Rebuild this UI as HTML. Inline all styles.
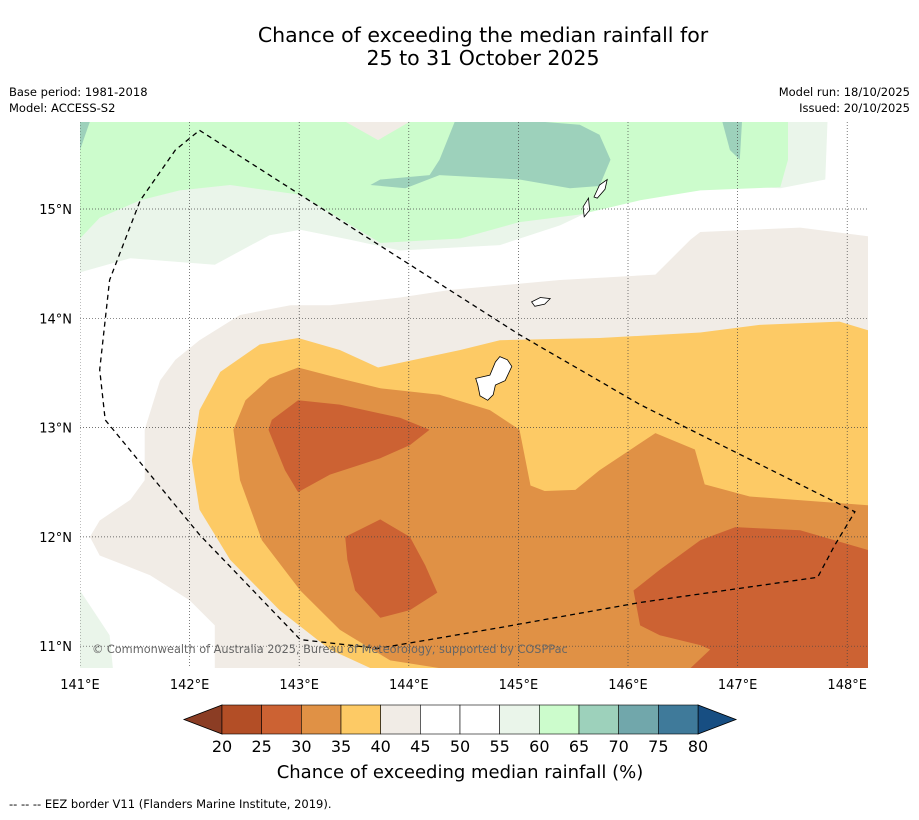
<!DOCTYPE html>
<html><head><meta charset="utf-8"><style>
body{margin:0;background:#fff;width:919px;height:816px;overflow:hidden;font-family:"DejaVu Sans",sans-serif}
</style></head><body>
<svg id="chart" width="919" height="816" xmlns="http://www.w3.org/2000/svg" font-family="DejaVu Sans, sans-serif">
<text x="483" y="42" font-size="20.5" text-anchor="middle">Chance of exceeding the median rainfall for</text>
<text x="483" y="65" font-size="20.5" text-anchor="middle">25 to 31 October 2025</text>
<text x="9" y="96" font-size="11.5">Base period: 1981-2018</text>
<text x="9" y="112" font-size="11.5">Model: ACCESS-S2</text>
<text x="910" y="96" font-size="11.5" text-anchor="end">Model run: 18/10/2025</text>
<text x="910" y="112" font-size="11.5" text-anchor="end">Issued: 20/10/2025</text>
<defs><clipPath id="mapclip"><rect x="80" y="122" width="788" height="546"/></clipPath></defs>
<g id="map" clip-path="url(#mapclip)"></g>
<g id="axes"></g>
<g id="cbar"></g>
<text x="460" y="778" font-size="18" text-anchor="middle">Chance of exceeding median rainfall (%)</text>
<text x="9" y="808" font-size="11.5">--  --  -- EEZ border V11 (Flanders Marine Institute, 2019).</text>
</svg>
<script>
const lonTicks=[141,142,143,144,145,146,147,148];
const latTicks=[11,12,13,14,15];
const levelTicks=[20,25,30,35,40,45,50,55,60,65,70,75,80];
const levelColors=["#b34e26","#cc6233","#e09145","#fdca65","#f1ece6","#ffffff","#ffffff","#eaf5ea","#ccfccc","#9dd1bb","#71a7ab","#3f7a9a"];
const contourLayers=[
 {name:"contour-55-60",color:"#eaf5ea",pts:[[141,14.42],[141.46,14.55],[142.23,14.49],[142.73,14.76],[143.01,14.81],[143.46,14.72],[143.92,14.62],[144.83,14.67],[145.38,14.85],[146.2,15.24],[147.39,15.19],[147.8,15.27],[147.82,15.8],[141,15.8]]},
 {name:"contour-55-60-sw",color:"#eaf5ea",pts:[[141,11.51],[141.27,11.10],[141.3,10.8],[141,10.8]]},
 {name:"contour-60-65",color:"#ccfccc",pts:[[141,14.73],[141.18,14.92],[141.55,15.08],[141.91,15.17],[142.37,15.22],[143.01,15.13],[143.74,14.69],[144.47,14.73],[145.01,14.88],[145.56,14.95],[146.11,15.08],[146.66,15.17],[147.39,15.20],[147.46,15.45],[147.46,15.8],[141,15.8]]},
 {name:"contour-40-45-top",color:"#f1ece6",pts:[[143.42,15.8],[143.72,15.63],[144.01,15.8]]},
 {name:"contour-65-70",color:"#9dd1bb",pts:[[144.42,15.8],[144.28,15.45],[144.19,15.31],[143.74,15.27],[143.65,15.22],[143.97,15.19],[144.28,15.31],[145.01,15.27],[145.47,15.19],[145.74,15.21],[145.84,15.45],[145.74,15.68],[145.56,15.77],[145.2,15.8]]},
 {name:"contour-65-70-ne",color:"#9dd1bb",pts:[[146.86,15.8],[146.93,15.54],[147.02,15.45],[147.04,15.8]]},
 {name:"contour-65-70-nw",color:"#9dd1bb",pts:[[141,15.8],[141.09,15.8],[141,15.54]]},
 {name:"contour-40-45",color:"#f1ece6",pts:[[148.19,14.75],[147.57,14.83],[146.66,14.79],[146.57,14.72],[146.25,14.40],[145.38,14.35],[144.38,14.26],[143.92,14.19],[143.28,14.12],[142.92,14.12],[142.46,14.03],[142.09,13.80],[141.87,13.62],[141.73,13.43],[141.59,12.98],[141.59,12.52],[141.46,12.34],[141.18,12.15],[141.09,12.0],[141.18,11.83],[141.64,11.65],[142.0,11.42],[142.23,11.19],[142.23,10.8],[148.19,10.8]]},
 {name:"contour-35-40",color:"#fdca65",pts:[[148.19,13.89],[147.93,13.97],[147.2,13.94],[146.66,13.87],[145.74,13.82],[144.83,13.80],[144.47,13.71],[143.72,13.55],[143.37,13.71],[142.99,13.82],[142.64,13.76],[142.28,13.51],[142.09,13.16],[142.02,12.70],[142.09,12.25],[142.37,11.79],[142.82,11.33],[143.28,10.97],[143.65,10.8],[148.19,10.8]]},
 {name:"contour-30-35",color:"#e09145",pts:[[148.19,12.29],[147.11,12.37],[146.7,12.48],[146.61,12.80],[146.25,12.95],[145.74,12.61],[145.52,12.43],[145.24,12.42],[145.11,12.47],[145.01,12.98],[144.74,13.16],[144.28,13.30],[143.74,13.36],[143.37,13.45],[142.99,13.55],[142.73,13.45],[142.51,13.25],[142.40,12.98],[142.46,12.52],[142.66,11.97],[143.01,11.51],[143.37,11.15],[143.83,10.87],[144.28,10.8],[148.19,10.8]]},
 {name:"contour-25-30-a",color:"#cc6233",pts:[[142.99,13.25],[143.37,13.21],[143.92,13.09],[144.19,12.98],[144.01,12.84],[143.74,12.72],[143.28,12.57],[142.99,12.41],[142.87,12.61],[142.72,12.98],[142.75,13.07]]},
 {name:"contour-25-30-b",color:"#cc6233",pts:[[143.42,12.0],[143.74,12.16],[144.01,12.0],[144.15,11.74],[144.26,11.49],[144.01,11.33],[143.74,11.26],[143.51,11.51],[143.44,11.79]]},
 {name:"contour-25-30-c",color:"#cc6233",pts:[[148.19,11.88],[147.57,12.06],[146.98,12.09],[146.66,11.97],[146.29,11.70],[146.05,11.51],[146.11,11.19],[146.29,11.10],[146.66,11.01],[146.75,10.97],[146.57,10.8],[148.19,10.8]]}
];
const islands=[
 [[144.83,13.65],[144.90,13.62],[144.94,13.56],[144.88,13.43],[144.79,13.39],[144.77,13.30],[144.72,13.25],[144.65,13.29],[144.63,13.39],[144.61,13.45],[144.74,13.48],[144.79,13.60]],
 [[145.12,14.15],[145.20,14.19],[145.29,14.18],[145.24,14.13],[145.15,14.11]],
 [[145.69,15.11],[145.74,15.22],[145.81,15.27],[145.79,15.18],[145.72,15.10]],
 [[145.59,15.02],[145.64,15.10],[145.65,14.99],[145.60,14.93]]
];
const eezLine=[[142.09,15.72],[143.01,15.13],[144.01,14.49],[145.01,13.85],[146.11,13.21],[148.07,12.23],[147.89,11.93],[147.73,11.63],[146.11,11.40],[144.83,11.17],[143.72,10.98],[143.01,11.06],[142.09,12.02],[141.23,13.07],[141.18,13.53],[141.27,14.35],[141.55,15.08],[141.87,15.54],[142.09,15.72]];
const NS="http://www.w3.org/2000/svg";
const X=lon=>80+(lon-141)*109.6, Y=lat=>209-(lat-15)*109.3;
const ptsStr=a=>a.map(p=>X(p[0]).toFixed(1)+","+Y(p[1]).toFixed(1)).join(" ");
function mk(tag,attrs,parent){const e=document.createElementNS(NS,tag);for(const k in attrs)e.setAttribute(k,attrs[k]);parent.appendChild(e);return e;}
const map=document.getElementById('map'),axes=document.getElementById('axes'),cbar=document.getElementById('cbar');
contourLayers.forEach(L=>{
 const p=mk('polygon',{points:ptsStr(L.pts),fill:L.color},map);
 
 
});
islands.forEach(I=>{
 const p=mk('polygon',{points:ptsStr(I),fill:'#fff',stroke:'#000','stroke-width':0.8},map);
 
 
});
lonTicks.forEach(l=>{
 const g=mk('line',{x1:X(l),x2:X(l),y1:122,y2:668,stroke:'#444','stroke-width':0.7,'stroke-dasharray':'1,2'},map);
 
 
 const t=mk('text',{x:X(l),y:689,'font-size':13,'text-anchor':'middle'},axes);
 t.textContent=l+'°E';
 
 
});
latTicks.forEach(l=>{
 const g=mk('line',{x1:80,x2:868,y1:Y(l),y2:Y(l),stroke:'#444','stroke-width':0.7,'stroke-dasharray':'1,2'},map);
 
 
 const t=mk('text',{x:72,y:Y(l)+5,'font-size':13,'text-anchor':'end'},axes);
 t.textContent=l+'°N';
 
 
});
const eez=mk('polyline',{points:ptsStr(eezLine),fill:'none',stroke:'#000','stroke-width':1.3,'stroke-dasharray':'5,4'},map);


const cr=mk('text',{x:92,y:653,'font-size':11.3,fill:'#666'},map);
cr.textContent='© Commonwealth of Australia 2025, Bureau of Meteorology, supported by COSPPac';


const cbX0=222,cbX1=698,cbY=705,cbH=29,n=levelColors.length,w=(cbX1-cbX0)/n;
const la=mk('polygon',{points:`${cbX0},${cbY} ${cbX0},${cbY+cbH} 184,${cbY+cbH/2}`,fill:'#8b3d24',stroke:'#000','stroke-width':0.8},cbar);


const ra=mk('polygon',{points:`${cbX1},${cbY} ${cbX1},${cbY+cbH} 736,${cbY+cbH/2}`,fill:'#174e82',stroke:'#000','stroke-width':0.8},cbar);


levelColors.forEach((c,i)=>{
 const r=mk('rect',{x:cbX0+i*w,y:cbY,width:w,height:cbH,fill:c,stroke:'#000','stroke-width':0.6},cbar);
 
 
});
levelTicks.forEach((v,i)=>{
 const t=mk('text',{x:cbX0+i*w,y:752,'font-size':16,'text-anchor':'middle'},cbar);
 t.textContent=v;
 
 
});
</script>
</body></html>
